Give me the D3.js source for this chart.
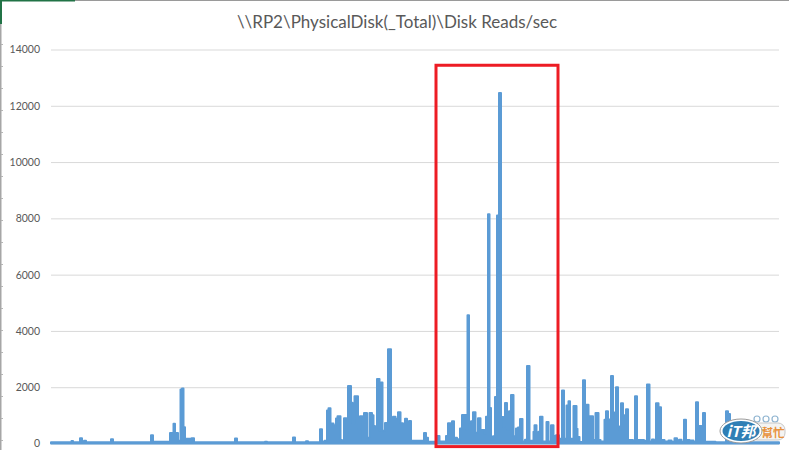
<!DOCTYPE html>
<html>
<head>
<meta charset="utf-8">
<script src="https://cdn.jsdelivr.net/npm/d3@7"></script>
<style>
  html, body { margin: 0; padding: 0; background: #fff; overflow: hidden; }
  text { font-family: Lato, "Open Sans", sans-serif; }
</style>
</head>
<body>
<div id="viz"></div>
<script>
/* Disk Reads/sec counter log */

var chartTitle = '\\\\RP2\\PhysicalDisk(_Total)\\Disk Reads/sec';

var yTicks = [0, 2000, 4000, 6000, 8000, 10000, 12000, 14000];

// sample number along the x axis, and the reads/sec at that sample
var samples = [
  0, 20, 21, 23, 28, 30, 32, 34, 36, 59, 61, 63, 99, 101, 103, 118, 120, 122, 123, 125,
  126, 128, 129, 130, 132, 133, 135, 139, 142, 144, 183, 185, 187, 213, 215, 217, 241, 243, 245, 254,
  256, 258, 268, 270, 272, 275, 277, 278, 281, 284, 286, 287, 289, 290, 292, 294, 295, 296, 298, 299,
  301, 302, 305, 306, 308, 310, 311, 312, 314, 315, 317, 320, 322, 323, 325, 327, 328, 329, 331, 332,
  336, 338, 339, 341, 343, 346, 348, 351, 353, 355, 357, 359, 361, 372, 374, 376, 378, 385, 387, 390,
  394, 396, 398, 400, 402, 404, 408, 410, 412, 414, 416, 417, 419, 421, 423, 426, 428, 431, 433, 434,
  436, 438, 439, 441, 443, 445, 447, 449, 451, 452, 453, 455, 457, 459, 461, 464, 466, 468, 470, 473,
  475, 477, 480, 482, 483, 484, 487, 488, 490, 493, 495, 496, 499, 501, 504, 506, 510, 512, 514, 517,
  518, 520, 522, 523, 525, 526, 527, 530, 531, 533, 535, 536, 539, 541, 543, 544, 545, 547, 548, 551,
  553, 554, 556, 558, 559, 561, 563, 564, 566, 568, 569, 571, 573, 574, 576, 578, 581, 583, 585, 587,
  591, 595, 597, 600, 602, 604, 606, 609, 611, 616, 619, 622, 625, 627, 629, 632, 634, 636, 641, 644,
  646, 648, 650, 651, 653, 655, 674, 676, 678, 680, 728
];

var reads = [
  40, 40, 90, 40, 40, 190, 50, 100, 40, 40, 150, 40, 40, 290, 60, 60, 370, 370, 700, 370,
  370, 100, 100, 1920, 1950, 580, 170, 170, 190, 40, 40, 180, 40, 40, 60, 40, 40, 210, 40, 40,
  80, 40, 40, 510, 60, 100, 1175, 1255, 710, 650, 890, 970, 970, 120, 100, 900, 900, 400, 2040, 2040,
  1450, 720, 1680, 1680, 540, 970, 970, 120, 1080, 1080, 200, 1080, 1000, 620, 580, 2290, 2290, 450, 2170, 450,
  730, 3350, 3350, 620, 950, 880, 1110, 720, 120, 880, 120, 800, 100, 100, 370, 200, 60, 60, 270, 70,
  70, 270, 720, 720, 790, 200, 150, 530, 1010, 1010, 500, 4560, 740, 790, 1110, 380, 900, 480, 480, 350,
  950, 8150, 1260, 130, 260, 1650, 8100, 12450, 940, 940, 600, 1440, 500, 1150, 1720, 260, 530, 570, 870, 70,
  130, 2750, 100, 100, 420, 650, 230, 420, 950, 70, 70, 760, 70, 650, 270, 290, 170, 1880, 170, 1350,
  1500, 170, 100, 1330, 1330, 520, 230, 50, 50, 2250, 600, 1380, 970, 970, 120, 70, 1080, 1080, 120, 70,
  70, 840, 1150, 850, 850, 2400, 1100, 900, 2000, 600, 500, 1430, 1000, 900, 1220, 120, 120, 100, 1680, 120,
  120, 100, 2100, 70, 140, 70, 1430, 1290, 120, 70, 110, 60, 190, 70, 130, 60, 840, 120, 110, 60,
  1470, 620, 620, 70, 1080, 60, 40, 1150, 1050, 40, 40
];

// the red box somebody drew over the busy period, in chart units
var boxSamples = [385, 507];
var boxReads = [-110, 13440];

var sheetRows = [44, 66, 88, 110, 132, 154, 176, 198, 220, 242, 264, 286, 308, 330, 352, 374, 396, 418, 440];

var width = 789,
    height = 450,
    margin = { top: 49.5, right: 10, bottom: 6.5, left: 51 };

var svg = d3.select('#viz').append('svg')
    .attr('width', width)
    .attr('height', height)
    .style('display', 'block');

var xScale = d3.scaleLinear()
    .domain([0, 728])
    .range([margin.left, width - margin.right]);

var yScale = d3.scaleLinear()
    .domain([0, 14000])
    .range([height - margin.bottom, margin.top]);

// bits of the spreadsheet window around the chart
svg.append('rect').attr('x', 75).attr('y', 0).attr('width', width - 75).attr('height', 1).attr('fill', '#9a9a9a');
svg.append('rect').attr('x', 0).attr('y', 0).attr('width', 75).attr('height', 1.5).attr('fill', '#217346');
svg.append('rect').attr('x', 0).attr('y', 0).attr('width', 2).attr('height', 24).attr('fill', '#217346');
svg.append('rect').attr('x', 0).attr('y', 24).attr('width', 1.5).attr('height', height - 24).attr('fill', '#a6a6a6');
svg.selectAll('.row').data(sheetRows)
  .enter().append('rect')
    .attr('class', 'row')
    .attr('x', 1)
    .attr('y', function(d) { return d; })
    .attr('width', 2)
    .attr('height', 1)
    .attr('fill', '#b5b5b5');

var yAxis = d3.axisLeft(yScale)
    .tickValues(yTicks)
    .tickFormat(d3.format('d'))
    .tickSizeInner(-(width - margin.left - margin.right))
    .tickSizeOuter(0)
    .tickPadding(11);

var yGuide = svg.append('g')
    .attr('transform', 'translate(' + margin.left + ',0)')
    .call(yAxis);

yGuide.select('.domain').remove();
yGuide.selectAll('line').attr('stroke', '#d9d9d9');
yGuide.selectAll('text')
    .attr('fill', '#595959')
    .style('font-size', '10.5px');

svg.append('text')
    .attr('x', 397)
    .attr('y', 28)
    .attr('text-anchor', 'middle')
    .attr('fill', '#595959')
    .style('font-size', '17px')
    .text(chartTitle);

// the log is so dense the line reads as solid columns, so step and fill under it
var area = d3.area()
    .curve(d3.curveStep)
    .x(function(d, i) { return xScale(samples[i]); })
    .y0(yScale(0))
    .y1(function(d) { return yScale(d); });

svg.append('path')
    .datum(reads)
    .attr('d', area)
    .attr('fill', '#5b9bd5')
    .attr('stroke', '#5b9bd5')
    .attr('stroke-width', 2)
    .attr('stroke-linejoin', 'round');

svg.append('rect')
    .attr('x', xScale(boxSamples[0]))
    .attr('y', yScale(boxReads[1]))
    .attr('width', xScale(boxSamples[1]) - xScale(boxSamples[0]))
    .attr('height', yScale(boxReads[0]) - yScale(boxReads[1]))
    .attr('fill', 'none')
    .attr('stroke', '#ed1c24')
    .attr('stroke-width', 3);

// site watermark, bottom right
var mark = svg.append('g');

mark.selectAll('.head').data([757, 766, 775])
  .enter().append('circle')
    .attr('class', 'head')
    .attr('cx', function(d) { return d; })
    .attr('cy', 419)
    .attr('r', 3)
    .attr('fill', '#fff')
    .attr('stroke', '#8fb4d0')
    .attr('stroke-width', 1.2);

mark.append('rect')
    .attr('x', 750).attr('y', 423).attr('width', 35).attr('height', 17).attr('rx', 7)
    .attr('fill', '#f4f4f2').attr('stroke', '#c8c8c8');

mark.append('ellipse')
    .attr('cx', 741).attr('cy', 431).attr('rx', 21).attr('ry', 12)
    .attr('fill', '#fff').attr('stroke', '#9a9a9a').attr('stroke-width', 1);

mark.append('ellipse')
    .attr('cx', 741).attr('cy', 431).attr('rx', 18.5).attr('ry', 10)
    .attr('fill', '#2f7fb5');

mark.append('text')
    .attr('x', 741).attr('y', 437)
    .attr('text-anchor', 'middle')
    .attr('fill', '#fff')
    .style('font-family', '"Noto Sans CJK TC", sans-serif')
    .style('font-weight', 'bold')
    .style('font-style', 'italic')
    .style('font-size', '15px')
    .text('iT邦');

mark.append('text')
    .attr('x', 773).attr('y', 437)
    .attr('text-anchor', 'middle')
    .attr('fill', '#e8913a')
    .style('font-family', '"Noto Sans CJK TC", sans-serif')
    .style('font-weight', 'bold')
    .style('font-size', '11.5px')
    .text('幫忙');
</script>
</body>
</html>
